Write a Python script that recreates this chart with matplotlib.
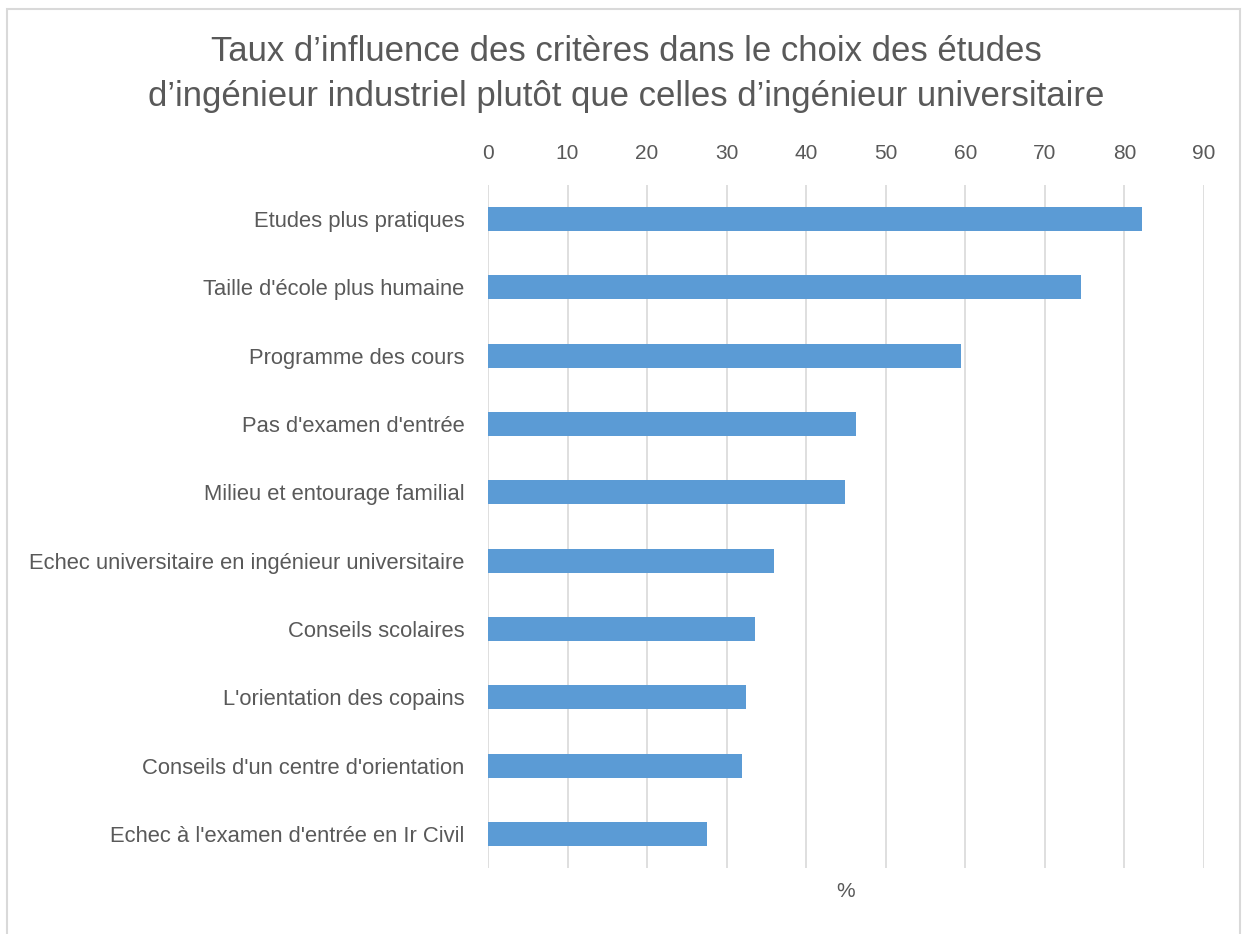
import matplotlib
matplotlib.use("Agg")
import matplotlib.pyplot as plt
from matplotlib.patches import Rectangle

plt.rcParams["font.family"] = ["Liberation Sans", "DejaVu Sans"]

TITLE = ("Taux d\u2019influence des crit\u00e8res dans le choix des \u00e9tudes\n"
         "d\u2019ing\u00e9nieur industriel plut\u00f4t que celles d\u2019ing\u00e9nieur universitaire")

# criteria, top to bottom
CRITERES = [
    "Etudes plus pratiques",
    "Taille d'\u00e9cole plus humaine",
    "Programme des cours",
    "Pas d'examen d'entr\u00e9e",
    "Milieu et entourage familial",
    "Echec universitaire en ing\u00e9nieur universitaire",
    "Conseils scolaires",
    "L'orientation des copains",
    "Conseils d'un centre d'orientation",
    "Echec \u00e0 l'examen d'entr\u00e9e en Ir Civil",
]
POURCENTAGES = [82.2, 74.5, 59.5, 46.3, 44.9, 35.9, 33.5, 32.4, 31.9, 27.5]
X_TICKS = [0, 10, 20, 30, 40, 50, 60, 70, 80, 90]

TEXT = "#595959"
BAR = "#5B9BD5"
GRID = "#D9D9D9"

fig = plt.figure(figsize=(12.42, 9.34), dpi=100)
fig.patch.set_facecolor("white")
fig.patches.append(Rectangle((0.006, -0.01), 0.992, 1.0, transform=fig.transFigure,
                             fill=False, edgecolor=GRID, linewidth=1.5))

# axes box in pixels: x 488..1204, y 185..868
W, H = 1242, 934
ax = fig.add_axes([488 / W, 1 - 868 / H, (1204 - 488) / W, (868 - 185) / H])

y = list(range(len(CRITERES)))
ax.barh(y, POURCENTAGES, height=0.35, color=BAR, zorder=3)
ax.set_ylim(len(CRITERES) - 0.5, -0.5)
ax.set_xlim(0, 90)
ax.set_xticks(X_TICKS)
ax.set_yticks(y)
ax.set_yticklabels(CRITERES)

ax.xaxis.tick_top()
ax.tick_params(axis="x", length=0, pad=16, labelsize=15, colors=TEXT)
ax.tick_params(axis="y", length=0, pad=17, labelsize=15.8, colors=TEXT)
ax.grid(axis="x", color=GRID, linewidth=1.2, zorder=0)
for s in ax.spines.values():
    s.set_visible(False)

ax.set_xlabel("%", fontsize=15, color=TEXT, labelpad=10)

fig.text(626 / W, 1 - 74 / H, TITLE, ha="center", va="center", fontsize=25,
         color=TEXT, linespacing=1.45)

fig.savefig("out.png", dpi=100, facecolor="white")
